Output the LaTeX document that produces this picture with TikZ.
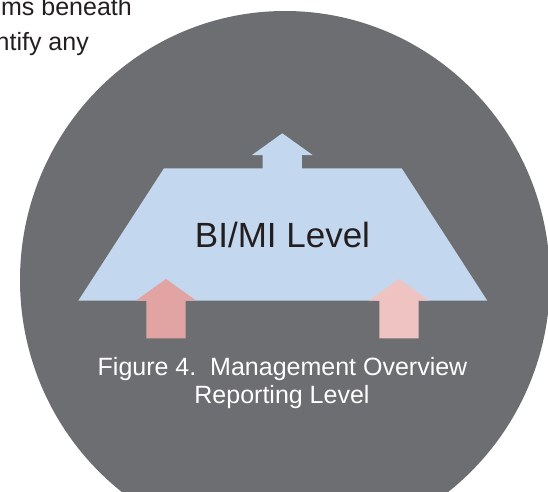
\documentclass[tikz,border=0pt]{standalone}
\usepackage{fontspec}
\setmainfont{Liberation Sans}
\usepackage{tikz}
\definecolor{cinza}{HTML}{6D6E71}
\definecolor{azul}{HTML}{C3D8EE}
\definecolor{rosaescuro}{HTML}{E1A4A3}
\definecolor{rosaclaro}{HTML}{EFC3C2}
\definecolor{texto}{HTML}{231F20}
\tikzset{
  seta/.pic={\fill (0,0) -- (30.3,21.7) -- (19.6,21.7) -- (19.6,59.3)
    -- (-19.6,59.3) -- (-19.6,21.7) -- (-30.3,21.7) -- cycle;}
}

\begin{document}
\begin{tikzpicture}[x=1pt,y=-1pt,
  rotulo/.style={inner sep=0pt,font=\fontsize{25}{30}\selectfont}]
\useasboundingbox (0,0) rectangle (548,491);
% Texto cortado
\node[rotulo,text=texto,anchor=base east] (par1) at (132,15) {ms beneath};
\node[rotulo,text=texto,anchor=base east] (par2) at (89,50) {ntify any};
% Circulo
\fill[cinza] (285,280) ellipse (265 and 269);
% Trapezio com seta
\fill[azul] (78.3,300.7) -- (164,168.3) -- (401.7,168.3) -- (487.3,300.7) -- cycle;
\pic[fill=azul] at (282.3,133.3) {seta};
\node[inner sep=0pt,font=\fontsize{35}{42}\selectfont,text=texto,anchor=base] (nivel) at (282.5,247.3) {BI/MI Level};
% Setas de baixo
\pic[fill=rosaescuro] at (166,279) {seta};
\pic[fill=rosaclaro] at (399,279) {seta};
% Legenda
\node[rotulo,text=white,anchor=base] (leg1) at (282.5,375) {Figure 4.\ \ Management Overview};
\node[rotulo,text=white,anchor=base] (leg2) at (282,403) {Reporting Level};
\end{tikzpicture}
\end{document}
